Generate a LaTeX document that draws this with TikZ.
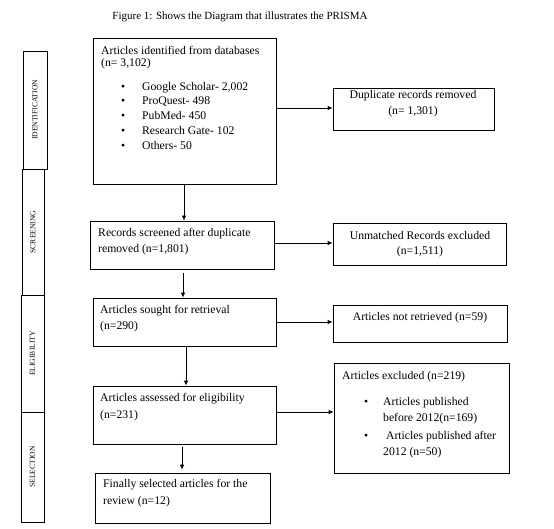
\documentclass[tikz,border=0pt]{standalone}
\usepackage{fontspec}
\setmainfont{Liberation Serif}
\usetikzlibrary{arrows.meta,fit}
\begin{document}
\begin{tikzpicture}[x=1pt,y=-1pt,
  box/.style={draw, line width=0.8pt, inner sep=0pt},
  sidebox/.style={draw, line width=0.8pt, inner sep=0pt},
  txt/.style={anchor=west, inner sep=0pt, font=\fontsize{11.7}{15}\selectfont},
  ctxt/.style={anchor=center, inner sep=0pt, align=center, font=\fontsize{11.7}{15.5}\selectfont},
  side/.style={rotate=90, inner sep=0pt, font=\fontsize{7.6}{9}\selectfont},
  arr/.style={line width=0.8pt, -{Latex[length=5pt,width=4.5pt]}}]
\useasboundingbox (0,0) rectangle (554,529);
\fill[white] (0,0) rectangle (554,529);

% title
\node[inner sep=0pt, font=\fontsize{11}{12}\selectfont] (title) at (240,17) {Figure 1: Shows the Diagram that illustrates the PRISMA};

% side boxes
\node[sidebox, fit={(23,51) (47,169)}] (sid) {};
\node[sidebox, fit={(22,169) (44,295)}] (scr) {};
\node[sidebox, fit={(21,295) (44,412)}] (eli) {};
\node[sidebox, fit={(21,412) (44,522)}] (sel) {};
\node[side] (lid) at (sid.center) {IDENTIFICATION};
\node[side] (lsc) at (scr.center) {SCREENING};
\node[side] (lel) at (eli.center) {ELIGIBILITY};
\node[side] (lse) at (sel.center) {SELECTION};

% main boxes
\node[box, fit={(93,38) (276,184)}] (b1) {};
\node[box, fit={(333,88) (494,130)}] (dup) {};
\node[box, fit={(90,221) (274,269)}] (b2) {};
\node[box, fit={(333,223) (506,265)}] (unm) {};
\node[box, fit={(93,298) (276,346)}] (b3) {};
\node[box, fit={(333,305) (507,342)}] (notr) {};
\node[box, fit={(93,386) (276,444)}] (b4) {};
\node[box, fit={(334,363) (509,473)}] (exc) {};
\node[box, fit={(95,473) (270,523)}] (b5) {};

% texts
\node[txt] (t1a) at (101,50) {Articles identified from databases};
\node[txt] (t1b) at (101,64) {(n= 3,102)};
\node[txt] (t1c) at (121,88) {\makebox[21pt][l]{\textbullet}Google Scholar- 2,002};
\node[txt] (t1d) at (121,102) {\makebox[21pt][l]{\textbullet}ProQuest- 498};
\node[txt] (t1e) at (121,116) {\makebox[21pt][l]{\textbullet}PubMed- 450};
\node[txt] (t1f) at (121,131) {\makebox[21pt][l]{\textbullet}Research Gate- 102};
\node[txt] (t1g) at (121,146) {\makebox[21pt][l]{\textbullet}Others- 50};

\node[ctxt] (t2) at (413,103.5) {Duplicate records removed\\(n= 1,301)};

\node[txt] (t3a) at (98,234) {Records screened after duplicate};
\node[txt] (t3b) at (98,250) {removed (n=1,801)};
\node[ctxt] (t4) at (420,244) {Unmatched Records excluded\\(n=1,511)};

\node[txt] (t5a) at (100,311) {Articles sought for retrieval};
\node[txt] (t5b) at (100,327) {(n=290)};
\node[ctxt] (t6) at (420,318) {Articles not retrieved (n=59)};

\node[txt] (t7a) at (100,399) {Articles assessed for eligibility};
\node[txt] (t7b) at (100,416) {(n=231)};

\node[txt] (t8a) at (342,377) {Articles excluded (n=219)};
\node[txt] (t8b) at (364,403) {\makebox[19pt][l]{\textbullet}Articles published};
\node[txt] (t8c) at (383,419) {before 2012(n=169)};
\node[txt] (t8d) at (364,437) {\makebox[19pt][l]{\textbullet}\ Articles published after};
\node[txt] (t8e) at (383,453) {2012 (n=50)};

\node[txt] (t9a) at (103,485) {Finally selected articles for the};
\node[txt] (t9b) at (103,502) {review (n=12)};

% connectors
\draw[arr] (b1.east |- 0,108) -- (dup.west |- 0,108);
\draw[arr] (b2.east |- 0,243) -- (unm.west |- 0,243);
\draw[arr] (b3.east |- 0,322) -- (notr.west |- 0,322);
\draw[arr] (b4.east |- 0,412) -- (exc.west |- 0,412);
\draw[arr] (b1.south -| 184,0) -- (b2.north -| 184,0);
\coordinate (c2) at (183,273);
\draw[arr] (c2) -- (b3.north -| c2);
\draw[arr] (b3.south -| 186,0) -- (b4.north -| 186,0);
\coordinate (c4) at (182,447);
\draw[arr] (c4) -- ([yshift=3pt]b5.north -| c4);
\end{tikzpicture}
\end{document}
